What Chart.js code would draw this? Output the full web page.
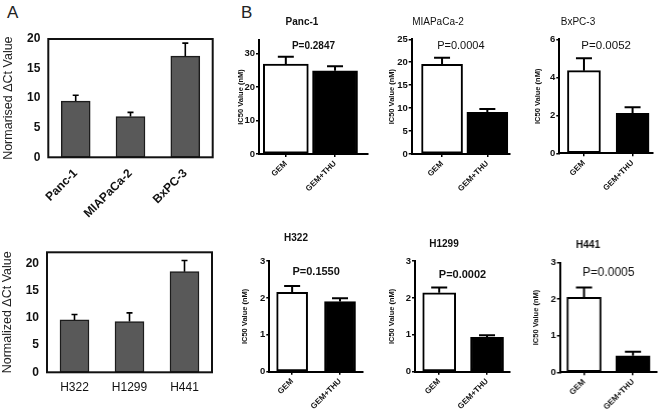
<!DOCTYPE html>
<html><head><meta charset="utf-8">
<script src="https://cdn.jsdelivr.net/npm/chart.js@4.4.1/dist/chart.umd.min.js"></script>
<style>
html,body{margin:0;padding:0;background:#fff;width:661px;height:418px;overflow:hidden;position:relative;font-family:"Liberation Sans",Arial,sans-serif}
canvas{position:absolute}
.lbl{position:absolute;font-size:17px;color:#222;line-height:17px}
</style></head><body>
<div class="lbl" style="left:7px;top:4px">A</div>
<div class="lbl" style="left:241px;top:4px">B</div>
<script>
// ---------- DATA ----------
// Panel A (top): pancreatic lines
const aTopCategories = ['Panc-1', 'MIAPaCa-2', 'BxPC-3'];
const aTopValues = [9.5, 6.9, 17.1];
const aTopErrors = [1.0, 0.7, 2.2];
const aTopYTicks = [0, 5, 10, 15, 20];
// Panel A (bottom): lung lines
const aBotCategories = ['H322', 'H1299', 'H441'];
const aBotValues = [9.6, 9.3, 18.45];
const aBotErrors = [1.0, 1.6, 2.05];
const aBotYTicks = [0, 5, 10, 15, 20];
// Panel B
const treatments = ['GEM', 'GEM+THU'];
const cellLinesB = ['Panc-1', 'MIAPaCa-2', 'BxPC-3', 'H322', 'H1299', 'H441'];
const gemIC50 = [26.8, 19.55, 4.35, 2.15, 2.14, 2.05];
const gemSEM = [2.2, 1.45, 0.65, 0.17, 0.14, 0.27];
const gemThuIC50 = [24.8, 9.1, 2.1, 1.9, 0.93, 0.45];
const gemThuSEM = [1.4, 0.7, 0.32, 0.09, 0.06, 0.11];
const pValues = ['P=0.2847', 'P=0.0004', 'P=0.0052', 'P=0.1550', 'P=0.0002', 'P=0.0005'];
const yMaxB = [34, 25, 6, 3, 3, 3];
const yTicksB = [[0, 10, 20, 30], [0, 5, 10, 15, 20, 25], [0, 2, 4, 6], [0, 1, 2, 3], [0, 1, 2, 3], [0, 1, 2, 3]];

// ---------- PLUGINS ----------
const FONT = '"Liberation Sans", Arial, sans-serif';
const errorBars = {
  id: 'errorBars',
  afterDatasetsDraw(chart, args, opts) {
    const ctx = chart.ctx, ys = chart.scales.y;
    chart.data.datasets.forEach((ds, di) => {
      if (!ds.errors) return;
      const meta = chart.getDatasetMeta(di);
      meta.data.forEach((el, i) => {
        const v = meta.controller.getParsed(i).y;
        const e = ds.errors[i];
        const yb = ys.getPixelForValue(v), yt = ys.getPixelForValue(v + e);
        ctx.save();
        ctx.strokeStyle = '#000';
        ctx.lineWidth = opts.width || 1.5;
        ctx.beginPath();
        ctx.moveTo(el.x, yb); ctx.lineTo(el.x, yt);
        ctx.moveTo(el.x - opts.cap / 2, yt); ctx.lineTo(el.x + opts.cap / 2, yt);
        ctx.stroke();
        ctx.restore();
      });
    });
  }
};
const frame = {
  id: 'frame',
  afterDraw(chart, args, opts) {
    if (!opts.on) return;
    const a = chart.chartArea, ctx = chart.ctx;
    ctx.save(); ctx.strokeStyle = '#111'; ctx.lineWidth = 2;
    ctx.strokeRect(a.left, a.top, a.right - a.left, a.bottom - a.top);
    ctx.restore();
  }
};
const pLabel = {
  id: 'pLabel',
  afterDraw(chart, args, opts) {
    if (!opts.text) return;
    const a = chart.chartArea, ctx = chart.ctx;
    ctx.save(); ctx.fillStyle = '#111'; ctx.font = opts.font;
    ctx.textAlign = 'center'; ctx.textBaseline = 'middle';
    ctx.fillText(opts.text, (a.left + a.right) / 2, a.top + opts.dy);
    ctx.restore();
  }
};
Chart.register(errorBars, frame, pLabel);

function addCanvas(left, top, w, h) {
  const c = document.createElement('canvas');
  c.width = w; c.height = h;
  c.style.left = left + 'px'; c.style.top = top + 'px';
  c.style.width = w + 'px'; c.style.height = h + 'px';
  document.body.appendChild(c);
  return c;
}

// ---------- PANEL A ----------
function panelA(g, cats, vals, errs, yTicks, yMax, yTitle, rotate, xBold) {
  const c = addCanvas(g.left, g.top, g.w, g.h);
  new Chart(c, {
    type: 'bar',
    data: {
      labels: cats,
      datasets: [{ data: vals, errors: errs, backgroundColor: '#595959', borderColor: '#1c1c1c',
        borderWidth: 1.5, borderSkipped: false, barThickness: 29 }]
    },
    options: {
      responsive: false, animation: false, devicePixelRatio: 1,
      layout: { padding: { top: g.areaT - g.top, right: g.left + g.w - g.areaR, left: 0, bottom: 0 } },
      plugins: { legend: { display: false }, tooltip: { enabled: false },
        errorBars: { width: 1.6, cap: 6 }, frame: { on: true } },
      scales: {
        x: {
          grid: { display: false, drawTicks: false }, border: { display: false },
          ticks: { color: '#111', autoSkip: false, minRotation: rotate, maxRotation: rotate, padding: rotate ? 9 : 8,
            font: { family: FONT, size: 12, weight: xBold ? 'bold' : 'normal' } },
          afterFit: s => { s.height = g.top + g.h - g.areaB; s.paddingLeft = 0; s.paddingRight = 0; }
        },
        y: {
          min: 0, max: yMax,
          afterBuildTicks: s => { s.ticks = yTicks.map(v => ({ value: v })); },
          grid: { display: false, drawTicks: false }, border: { display: false },
          ticks: { color: '#111', padding: 8, font: { family: FONT, size: 12, weight: 'bold' } },
          title: { display: true, text: yTitle, color: '#222', padding: { top: g.yTitleX - g.left - 7.5, bottom: 0 },
            font: { family: FONT, size: 12.5 } },
          afterFit: s => { s.width = g.areaL - g.left; }
        }
      }
    }
  });
}
panelA({ left: 0, top: 0, w: 221, h: 225, areaL: 48.3, areaR: 212.7, areaT: 39, areaB: 157.3, yTitleX: 9 },
  aTopCategories, aTopValues, aTopErrors, aTopYTicks, 20, 'Normarised \u0394Ct Value', 45, true);
panelA({ left: 0, top: 215, w: 221, h: 195, areaL: 47, areaR: 212, areaT: 252.3, areaB: 372.3, yTitleX: 8 },
  aBotCategories, aBotValues, aBotErrors, aBotYTicks, 22, 'Normalized \u0394Ct Value', 0, false);

// ---------- PANEL B ----------
const bGeom = [
  { top: 0, h: 215, areaL: 259, areaR: 368, areaT: 40, areaB: 154, titleCX: 302, titleY: 22, yTitleX: 241,
    xMin: -0.545, xMax: 1.67, barW: 45, titleFont: 'bold', titleSize: 10, pFont: 'bold 10px', pDy: 6 },
  { top: 0, h: 215, areaL: 411.7, areaR: 510, areaT: 39.3, areaB: 154, titleCX: 438, titleY: 22, yTitleX: 391.5,
    xMin: -0.67, xMax: 1.5, barW: 41, titleFont: 'normal', titleSize: 10, pFont: 'normal 11px', pDy: 7 },
  { top: 0, h: 215, areaL: 559, areaR: 653.3, areaT: 39.3, areaB: 153.3, titleCX: 578, titleY: 22, yTitleX: 538,
    xMin: -0.507, xMax: 1.42, barW: 33, titleFont: 'normal', titleSize: 10, pFont: 'normal 11.5px', pDy: 7 },
  { top: 215, h: 203, areaL: 269, areaR: 363.3, areaT: 261, areaB: 371.7, titleCX: 296, titleY: 238, yTitleX: 245,
    xMin: -0.477, xMax: 1.48, barW: 31, titleFont: 'bold', titleSize: 10, pFont: 'bold 11px', pDy: 11 },
  { top: 215, h: 203, areaL: 415, areaR: 510, areaT: 261, areaB: 371.7, titleCX: 444, titleY: 244, yTitleX: 392,
    xMin: -0.506, xMax: 1.48, barW: 33, titleFont: 'bold', titleSize: 10, pFont: 'bold 11px', pDy: 14 },
  { top: 215, h: 203, areaL: 560, areaR: 656.7, areaT: 262.7, areaB: 372.3, titleCX: 588, titleY: 245, yTitleX: 536,
    xMin: -0.49, xMax: 1.49, barW: 34, titleFont: 'bold', titleSize: 10, pFont: 'normal 12px', pDy: 10 }
];

cellLinesB.forEach((name, k) => {
  const g = bGeom[k];
  // title is centred over [canvas left, chart-area right]
  const left = 2 * g.titleCX - g.areaR;
  const w = g.areaR + 4 - left;
  const c = addCanvas(left, g.top, w, g.h);
  const tl = g.titleSize * 1.2;
  const ySize = 7.5, yl = ySize * 1.2;
  new Chart(c, {
    type: 'bar',
    data: {
      datasets: [{
        data: treatments.map((t, i) => ({ x: i, y: i === 0 ? gemIC50[k] : gemThuIC50[k] })),
        errors: [gemSEM[k], gemThuSEM[k]],
        backgroundColor: ['#ffffff', '#000000'], borderColor: '#000', borderWidth: 2,
        borderSkipped: false, barThickness: g.barW
      }]
    },
    options: {
      responsive: false, animation: false, devicePixelRatio: 1,
      layout: { padding: { top: 0, left: 0, bottom: 0, right: left + w - g.areaR } },
      plugins: {
        legend: { display: false }, tooltip: { enabled: false },
        title: { display: true, text: name, color: '#111',
          font: { family: FONT, size: g.titleSize, weight: g.titleFont },
          padding: { top: g.titleY - g.top - tl / 2, bottom: g.areaT - g.titleY - tl / 2 } },
        errorBars: { width: 2, cap: 16 },
        pLabel: { text: pValues[k], font: g.pFont + ' ' + FONT, dy: g.pDy }
      },
      scales: {
        x: {
          type: 'linear', min: g.xMin, max: g.xMax, offset: false,
          afterBuildTicks: s => { s.ticks = treatments.map((t, i) => ({ value: i })); },
          grid: { drawOnChartArea: false, drawTicks: true, tickLength: 3, color: '#000', lineWidth: 1.5, offset: false },
          border: { display: true, color: '#000', width: 2 },
          ticks: { color: '#111', autoSkip: false, minRotation: 45, maxRotation: 45, padding: 2,
            callback: v => treatments[v] !== undefined ? treatments[v] : '',
            font: { family: FONT, size: 8, weight: 'bold' } },
          afterFit: s => { s.height = g.top + g.h - g.areaB; s.paddingLeft = 0; s.paddingRight = 0; }
        },
        y: {
          min: 0, max: yMaxB[k],
          afterBuildTicks: s => { s.ticks = yTicksB[k].map(v => ({ value: v })); },
          grid: { drawOnChartArea: false, drawTicks: true, tickLength: 3, color: '#000', lineWidth: 1.5 },
          border: { display: true, color: '#000', width: 2 },
          ticks: { color: '#111', padding: 1, font: { family: FONT, size: 9.5, weight: 'bold' } },
          title: { display: true, text: 'IC50 Value (nM)', color: '#111',
            padding: { top: g.yTitleX - left - yl / 2, bottom: 0 },
            font: { family: FONT, size: ySize, weight: 'bold' } },
          afterFit: s => { s.width = g.areaL - left; s.paddingTop = 0; s.paddingBottom = 0; }
        }
      }
    }
  });
});
</script>
</body></html>
